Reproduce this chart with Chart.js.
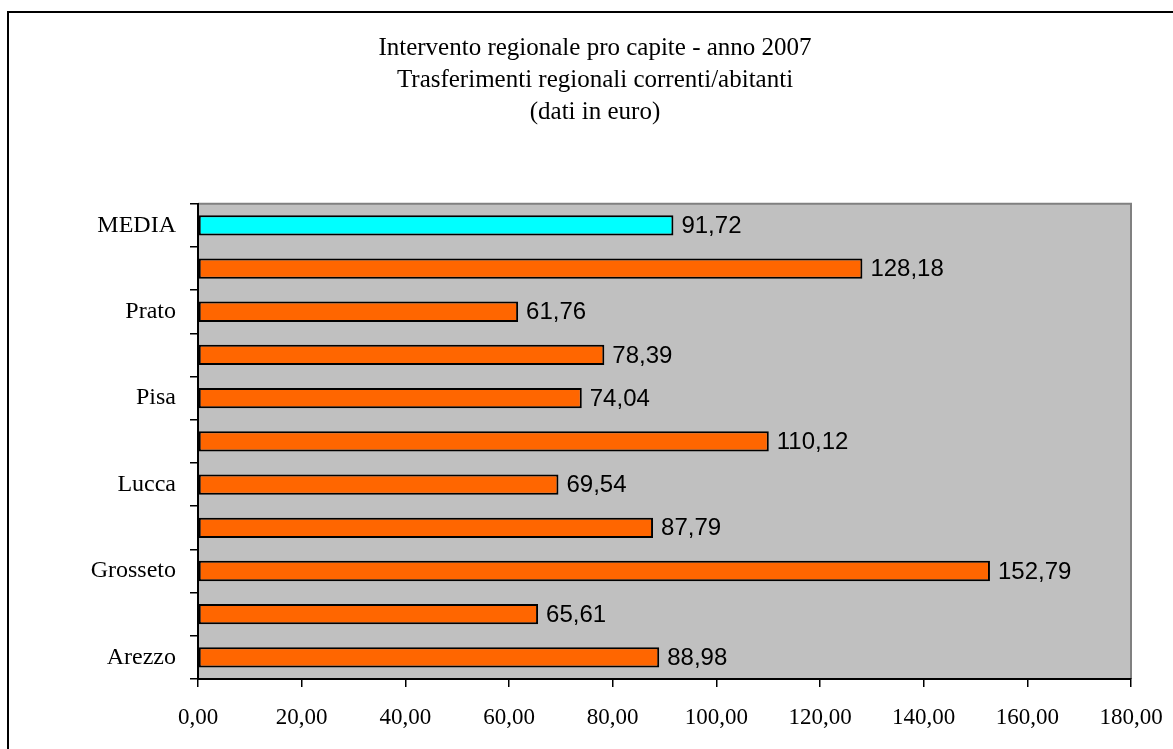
<!DOCTYPE html>
<html>
<head>
<meta charset="utf-8">
<title>Intervento regionale pro capite - anno 2007</title>
<script src="https://cdn.jsdelivr.net/npm/chart.js@4/dist/chart.umd.min.js"></script>
<style>
  html, body { margin: 0; padding: 0; background: #fff; }
  #wrap { width: 1173px; height: 749px; position: relative; }
</style>
</head>
<body>
<div id="wrap"><canvas id="chart"></canvas></div>
<script>
// Province toscane (dal basso verso l'alto) + media regionale
const province = ['Arezzo', 'Firenze', 'Grosseto', 'Livorno', 'Lucca', 'Massa Carrara',
                  'Pisa', 'Pistoia', 'Prato', 'Siena', 'MEDIA'];
const valori = [88.98, 65.61, 152.79, 87.79, 69.54, 110.12, 74.04, 78.39, 61.76, 128.18, 91.72];
const colori = ['#FF6600', '#FF6600', '#FF6600', '#FF6600', '#FF6600', '#FF6600',
                '#FF6600', '#FF6600', '#FF6600', '#FF6600', '#00FFFF'];
const titolo = [
  'Intervento regionale pro capite - anno 2007',
  'Trasferimenti regionali correnti/abitanti',
  '(dati in euro)'
];
const asseMin = 0, asseMax = 180, asseStep = 20;

const SERIF = "'Times New Roman', 'Liberation Serif', serif";
const SANS = "Arial, 'Liberation Sans', sans-serif";

function euro(v) {
  return Number(v).toFixed(2).replace('.', ',');
}

// cornice esterna + sfondo grigio dell'area del grafico
const sfondo = {
  id: 'sfondo',
  beforeDraw(chart) {
    const ctx = chart.ctx;
    const a = chart.chartArea;
    ctx.save();
    ctx.strokeStyle = '#000';
    ctx.lineWidth = 2;
    ctx.strokeRect(8, 12, 1300, 900);
    ctx.fillStyle = '#C0C0C0';
    ctx.fillRect(a.left, a.top, a.right - a.left, a.bottom - a.top);
    ctx.strokeStyle = '#808080';
    ctx.lineWidth = 2;
    ctx.beginPath();
    ctx.moveTo(a.left, a.top);
    ctx.lineTo(a.right, a.top);
    ctx.lineTo(a.right, a.bottom);
    ctx.stroke();
    ctx.restore();
  }
};

// etichette con il valore a destra di ogni barra
const etichette = {
  id: 'etichette',
  afterDatasetsDraw(chart) {
    const ctx = chart.ctx;
    ctx.save();
    ctx.font = '24px ' + SANS;
    ctx.fillStyle = '#000';
    ctx.textAlign = 'left';
    ctx.textBaseline = 'middle';
    chart.getDatasetMeta(0).data.forEach((bar, i) => {
      ctx.fillText(euro(valori[i]), bar.x + 8, bar.y + 1);
    });
    ctx.restore();
  }
};

new Chart(document.getElementById('chart'), {
  type: 'bar',
  data: {
    labels: province,
    datasets: [{
      data: valori,
      backgroundColor: colori,
      borderColor: '#000',
      borderWidth: 2,
      borderSkipped: false,
      barPercentage: 0.47,
      categoryPercentage: 1
    }]
  },
  options: {
    indexAxis: 'y',
    responsive: true,
    maintainAspectRatio: false,
    animation: false,
    layout: { padding: { left: 59, right: 42, top: 0, bottom: 0 } },
    plugins: {
      legend: { display: false },
      tooltip: { enabled: false },
      title: {
        display: true,
        text: titolo,
        color: '#000',
        font: { family: SERIF, size: 25, weight: 'normal', lineHeight: 1.29 },
        padding: { top: 32, bottom: 75 }
      }
    },
    scales: {
      x: {
        min: asseMin,
        max: asseMax,
        afterFit(scale) {
          scale.height = 70;
          scale.paddingLeft = 0;
          scale.paddingRight = 0;
        },
        ticks: {
          stepSize: asseStep,
          color: '#000',
          padding: 17,
          maxRotation: 0,
          font: { family: SERIF, size: 23 },
          callback: v => euro(v)
        },
        grid: {
          drawOnChartArea: false,
          drawTicks: true,
          tickLength: 8,
          color: '#000',
          lineWidth: 1.5
        },
        border: { display: true, color: '#000', width: 2 }
      },
      y: {
        reverse: true,
        afterFit(scale) { scale.width = 198 - 59; },
        ticks: {
          autoSkip: false,
          color: '#000',
          padding: 14,
          font: { family: SERIF, size: 24 },
          callback(value, index) {
            return index % 2 === 0 ? this.getLabelForValue(value) : '';
          }
        },
        grid: {
          drawOnChartArea: false,
          drawTicks: true,
          tickLength: 8,
          color: '#000',
          lineWidth: 1.5
        },
        border: { display: true, color: '#000', width: 2 }
      }
    }
  },
  plugins: [sfondo, etichette]
});
</script>
</body>
</html>
